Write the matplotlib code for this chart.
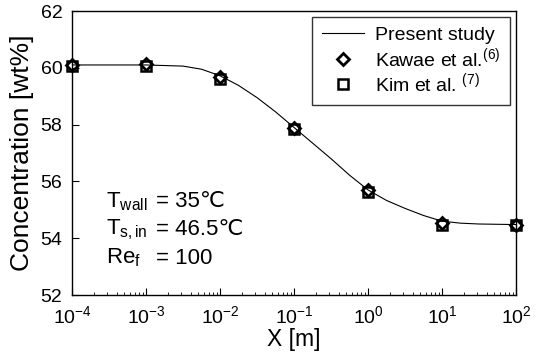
import numpy as np
import matplotlib
matplotlib.use('Agg')
import matplotlib.pyplot as plt
from matplotlib.ticker import LogLocator, NullFormatter

plt.rcParams['font.family'] = ['Liberation Sans', 'DejaVu Sans']
plt.rcParams['mathtext.fontset'] = 'custom'
plt.rcParams['mathtext.rm'] = 'Liberation Sans'
plt.rcParams['mathtext.it'] = 'Liberation Sans:italic'

# measured points
x_pts = [1e-4, 1e-3, 1e-2, 1e-1, 1e0, 1e1, 1e2]
kawae = [60.10, 60.12, 59.68, 57.88, 55.70, 54.54, 54.46]
kim = [60.05, 60.08, 59.62, 57.84, 55.62, 54.45, 54.45]

# present study curve (log10 x)
curve_logx = [-4, -3.5, -3, -2.5, -2.25, -2, -1.75, -1.5, -1.25, -1, -0.75, -0.5,
              -0.25, 0, 0.25, 0.5, 0.75, 1, 1.25, 1.5, 2]
curve_c = [60.1, 60.1, 60.1, 60.06, 59.95, 59.72, 59.38, 58.95, 58.45, 57.9, 57.35,
           56.8, 56.22, 55.7, 55.33, 55.05, 54.8, 54.6, 54.53, 54.5, 54.48]

y_ticks = [52, 54, 56, 58, 60, 62]
x_ticklabels = [r'10$^{-4}$', r'10$^{-3}$', r'10$^{-2}$', r'10$^{-1}$',
                r'10$^{0}$', r'10$^{1}$', r'10$^{2}$']

cond_names = [r'T$_{\rm wall}$', r'T$_{\rm s,in}$', r'Re$_{\rm f}$']
cond_values = ['= 35℃', '= 46.5℃', '= 100']

fig = plt.figure(figsize=(5.46, 3.55), dpi=100)
ax = fig.add_axes([0.132, 0.169, 0.813, 0.8])

ax.plot(10.0 ** np.array(curve_logx), curve_c, color='black', lw=0.8, label='Present study')
ax.plot(x_pts, kawae, 'D', ms=6.5, mfc='none', mec='black', mew=2, clip_on=False,
        label='Kawae et al.$^{(6)}$')
ax.plot(x_pts, kim, 's', ms=6.5, mfc='none', mec='black', mew=1.8, clip_on=False,
        label='Kim et al. $^{(7)}$')

ax.set_xscale('log')
ax.set_xlim(1e-4, 1e2)
ax.set_ylim(52, 62)
ax.set_yticks(y_ticks)
ax.set_xticks(x_pts)
ax.set_xticklabels(x_ticklabels)
ax.xaxis.set_minor_locator(LogLocator(base=10, subs=np.arange(2, 10), numticks=20))
ax.xaxis.set_minor_formatter(NullFormatter())
ax.tick_params(direction='in', which='major', length=5, labelsize=14)
ax.tick_params(direction='in', which='minor', length=2.5)
ax.tick_params(axis='x', which='major', pad=7)
ax.tick_params(axis='y', which='major', pad=7)

ax.set_xlabel('X [m]', fontsize=16.5, labelpad=1)
ax.set_ylabel('Concentration [wt%]', fontsize=19)
ax.yaxis.set_label_coords(-0.085, 0.5)

for i, (name, val) in enumerate(zip(cond_names, cond_values)):
    yy = 0.33 - 0.1 * i
    ax.text(0.077, yy, name, transform=ax.transAxes, fontsize=16, va='center')
    ax.text(0.19, yy, val, transform=ax.transAxes, fontsize=16, va='center')

leg = ax.legend(loc='upper right', fontsize=14, frameon=True, fancybox=False,
                edgecolor='black', handlelength=2.2, borderaxespad=0.3,
                labelspacing=0.08, handletextpad=0.55, borderpad=0.5)
leg.get_frame().set_linewidth(1)

for s in ax.spines.values():
    s.set_linewidth(1)

fig.savefig('out.png', dpi=100)
